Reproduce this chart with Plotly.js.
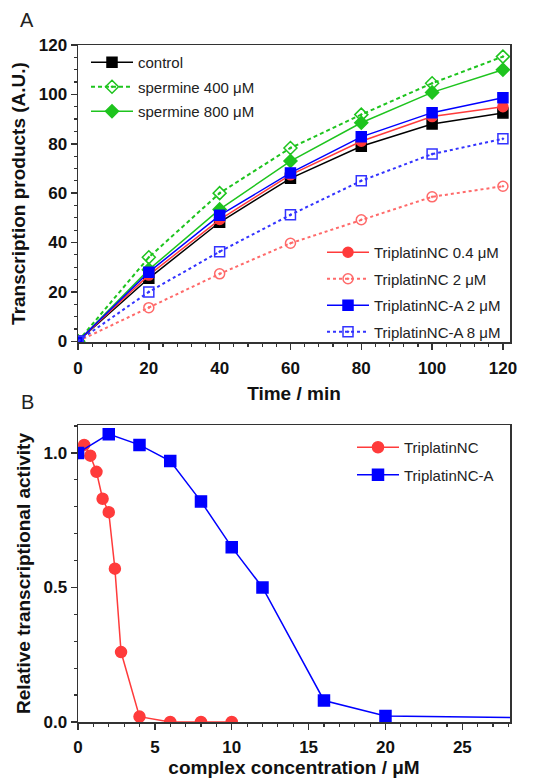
<!DOCTYPE html>
<html>
<head>
<meta charset="utf-8">
<script src="https://cdn.plot.ly/plotly-3.0.1.min.js"></script>
<style>
html,body{margin:0;padding:0;background:#fff;}
#chart{width:539px;height:781px;}
</style>
</head>
<body>
<div id="chart"></div>
<script>
// ---- Panel A data ----
const timeMin = [0, 20, 40, 60, 80, 100, 120];
const control = [0, 25.5, 48.2, 66, 79, 88, 92.5];
const spermine400 = [0, 34, 60, 78.3, 91.8, 104.5, 115.3];
const spermine800 = [0, 29, 53.4, 73, 88.5, 100.8, 110];
const triNC04 = [0, 26.8, 49.3, 67.4, 81, 91, 95];
const triNC2 = [0, 13.6, 27.3, 39.7, 49.2, 58.5, 62.8];
const triNCA2 = [0, 28, 51, 68.2, 82.8, 92.6, 98.6];
const triNCA8 = [0, 20, 36.3, 51.2, 65, 75.8, 82];

// ---- Panel B data ----
const concNC = [0, 0.4, 0.8, 1.2, 1.6, 2, 2.4, 2.8, 4, 6, 8, 10];
const activityNC = [1.0, 1.03, 0.99, 0.93, 0.83, 0.78, 0.57, 0.26, 0.02, 0, 0, 0];
const concNCA = [0, 2, 4, 6, 8, 10, 12, 16, 20, 30];
const activityNCA = [1.0, 1.07, 1.03, 0.97, 0.82, 0.65, 0.5, 0.08, 0.022, 0.015];

const GREEN = '#1ec41e', RED = '#ff3b3b', RED2 = '#ff6a6a', BLUE = '#0000ff', BLUE2 = '#3333ff';
const FONT = 'Liberation Sans, Arial, sans-serif';

function tr(x, y, name, color, dash, symbol, legend, group, size) {
  return {
    x: x, y: y, name: name, type: 'scatter', mode: 'lines+markers',
    xaxis: legend === 'legend3' ? 'x2' : 'x', yaxis: legend === 'legend3' ? 'y2' : 'y',
    line: {color: color, width: dash === 'solid' ? 1.5 : 2, dash: dash},
    marker: {color: color, symbol: symbol, size: size || 9, line: {color: color, width: 1.5}},
    legend: legend, legendgroup: group, cliponaxis: true
  };
}

const data = [
  tr(timeMin, control, 'control', '#000000', 'solid', 'square', 'legend', 'g1', 10),
  tr(timeMin, spermine400, 'spermine 400 \u03bcM', GREEN, '4px,3px', 'diamond-open-dot', 'legend', 'g2', 10),
  tr(timeMin, spermine800, 'spermine 800 \u03bcM', GREEN, 'solid', 'diamond', 'legend', 'g3', 10),
  tr(timeMin, triNC04, 'TriplatinNC 0.4 \u03bcM', RED, 'solid', 'circle', 'legend2', 'h1', 10),
  tr(timeMin, triNC2, 'TriplatinNC 2 \u03bcM', RED2, '3px,3px', 'circle-open-dot', 'legend2', 'h2', 10),
  tr(timeMin, triNCA2, 'TriplatinNC-A 2 \u03bcM', BLUE, 'solid', 'square', 'legend2', 'h3', 10),
  tr(timeMin, triNCA8, 'TriplatinNC-A 8 \u03bcM', BLUE2, '3px,3px', 'square-open-dot', 'legend2', 'h4', 10),
  tr(concNC, activityNC, 'TriplatinNC', RED, 'solid', 'circle', 'legend3', 'k1', 11),
  tr(concNCA, activityNCA, 'TriplatinNC-A', BLUE, 'solid', 'square', 'legend3', 'k2', 11)
];

const axisCommon = {
  showline: true, linecolor: '#333', linewidth: 1.5, mirror: true,
  ticks: 'outside', ticklen: 6, tickwidth: 1.5, tickcolor: '#333',
  showgrid: false, zeroline: false,
  tickfont: {family: FONT, size: 17, color: '#111', weight: 'bold'},
  title: {font: {family: FONT, size: 19, color: '#111', weight: 'bold'}}
};

const legendCommon = {
  bgcolor: 'rgba(0,0,0,0)', borderwidth: 0,
  font: {family: FONT, size: 15, color: '#222'},
  traceorder: 'grouped', itemclick: false, itemdoubleclick: false,
  itemwidth: 42
};

const layout = {
  width: 539, height: 781,
  margin: {l: 0, r: 0, t: 0, b: 0},
  paper_bgcolor: '#fff', plot_bgcolor: '#fff',
  showlegend: true,
  xaxis: Object.assign({}, axisCommon, {
    domain: [78/539, 510/539], anchor: 'y', range: [0, 122],
    tickvals: [0, 20, 40, 60, 80, 100, 120], ticklabelstandoff: 4,
    minor: {dtick: 4, ticklen: 3, tickwidth: 1.2, tickcolor: '#333', ticks: 'outside'},
    title: Object.assign({}, axisCommon.title, {text: 'Time / min', standoff: 10})
  }),
  yaxis: Object.assign({}, axisCommon, {
    domain: [1 - 342/781, 1 - 45/781], anchor: 'x', range: [-0.3, 120],
    tickvals: [0, 20, 40, 60, 80, 100, 120],
    minor: {dtick: 5, ticklen: 3, tickwidth: 1.2, tickcolor: '#333', ticks: 'outside'},
    title: Object.assign({}, axisCommon.title, {text: 'Transcription products (A.U.)', standoff: 8})
  }),
  xaxis2: Object.assign({}, axisCommon, {
    domain: [78/539, 510/539], anchor: 'y2', range: [0, 28.1],
    tickvals: [0, 5, 10, 15, 20, 25], ticklabelstandoff: 3,
    minor: {dtick: 1, ticklen: 3, tickwidth: 1.2, tickcolor: '#333', ticks: 'outside'},
    title: Object.assign({}, axisCommon.title, {text: 'complex concentration / \u03bcM', standoff: 4})
  }),
  yaxis2: Object.assign({}, axisCommon, {
    domain: [1 - 722/781, 1 - 425/781], anchor: 'x2', range: [0, 1.104],
    tickvals: [0, 0.5, 1.0], ticktext: ['0.0', '0.5', '1.0'],
    minor: {dtick: 0.1, ticklen: 3, tickwidth: 1.2, tickcolor: '#333', ticks: 'outside'},
    title: Object.assign({}, axisCommon.title, {text: 'Relative transcriptional activity', standoff: 8})
  }),
  legend: Object.assign({}, legendCommon, {
    x: 86/539, y: 1 - 46/781, xanchor: 'left', yanchor: 'top', tracegroupgap: 2
  }),
  legend2: Object.assign({}, legendCommon, {
    x: 322/539, y: 1 - 236/781, xanchor: 'left', yanchor: 'top', tracegroupgap: 4
  }),
  legend3: Object.assign({}, legendCommon, {
    x: 352/539, y: 1 - 431/781, xanchor: 'left', yanchor: 'top', tracegroupgap: 5
  }),
  annotations: [
    {text: 'A', x: 27/539, y: 1 - 20/781, xref: 'paper', yref: 'paper', showarrow: false,
     font: {family: FONT, size: 20, color: '#222'}, xanchor: 'center', yanchor: 'middle'},
    {text: 'B', x: 27/539, y: 1 - 402/781, xref: 'paper', yref: 'paper', showarrow: false,
     font: {family: FONT, size: 20, color: '#222'}, xanchor: 'center', yanchor: 'middle'}
  ]
};

Plotly.newPlot('chart', data, layout, {displayModeBar: false, staticPlot: true});
</script>
</body>
</html>
